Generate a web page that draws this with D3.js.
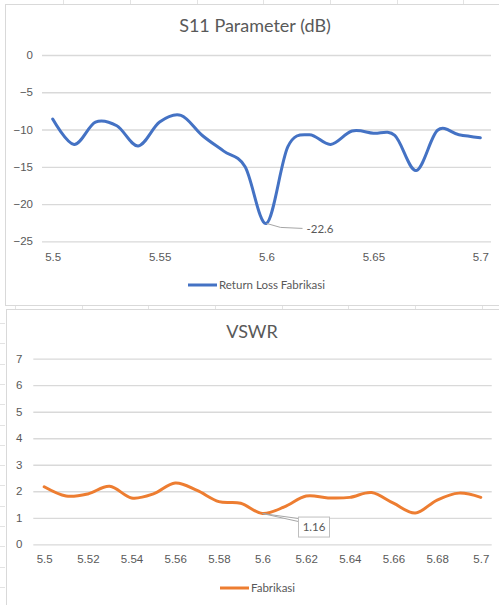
<!DOCTYPE html>
<html>
<head>
<meta charset="utf-8">
<script src="https://cdn.jsdelivr.net/npm/d3@7"></script>
<style>
  html, body { margin: 0; padding: 0; background: #fff; }
  svg { display: block; font-family: Lato, "Open Sans", sans-serif; }
</style>
</head>
<body>
<svg id="sheet" width="499" height="605"></svg>
<script>
// Frequency sweep (GHz), one category per measurement
const frequencies = [5.50, 5.51, 5.52, 5.53, 5.54, 5.55, 5.56, 5.57, 5.58, 5.59, 5.60,
                     5.61, 5.62, 5.63, 5.64, 5.65, 5.66, 5.67, 5.68, 5.69, 5.70];

// Measured return loss of the fabricated antenna (dB)
const returnLoss = [-8.6, -12.0, -9.0, -9.5, -12.2, -9.0, -8.1, -10.8, -12.9, -15.0, -22.6,
                    -12.3, -10.7, -12.0, -10.2, -10.5, -10.8, -15.5, -10.1, -10.7, -11.1];

// Measured VSWR of the fabricated antenna
const vswr = [2.17, 1.82, 1.90, 2.19, 1.75, 1.90, 2.31, 2.03, 1.61, 1.55, 1.16,
              1.41, 1.82, 1.75, 1.77, 1.95, 1.55, 1.18, 1.67, 1.93, 1.77];

// Frequency whose value carries a data label (resonance)
const labelledFrequency = 5.60;

// Axis tick values
const s11Ticks = [0, -5, -10, -15, -20, -25];
const s11FreqLabels = ["5.5", "5.55", "5.6", "5.65", "5.7"];
const vswrTicks = [0, 1, 2, 3, 4, 5, 6, 7];
const vswrFreqLabels = ["5.5", "5.52", "5.54", "5.56", "5.58", "5.6", "5.62", "5.64", "5.66", "5.68", "5.7"];

const fmt = d => String(+d.toFixed(2));
const categories = frequencies.map(fmt);
const labelIndex = frequencies.findIndex(f => Math.abs(f - labelledFrequency) < 1e-9);

const svg = d3.select("#sheet");
const GRID = "#d9d9d9";
const TEXT = "#595959";

// Faint worksheet cell lines peeking around the chart objects
const sheet = svg.append("g").attr("stroke", "#e3e3e3").attr("stroke-width", 1);
[63, 130, 197, 263, 330, 397, 463].forEach(x =>
  sheet.append("line").attr("x1", x + 0.5).attr("x2", x + 0.5).attr("y1", 0).attr("y2", 4));
[15, 82, 148, 215, 282, 348, 415, 482].forEach(x =>
  sheet.append("line").attr("x1", x + 0.5).attr("x2", x + 0.5).attr("y1", 305).attr("y2", 309));
d3.range(323, 605, 20.3).forEach(y =>
  sheet.append("line").attr("x1", 0).attr("x2", 5).attr("y1", Math.round(y) + 0.5).attr("y2", Math.round(y) + 0.5));

function drawChart(cfg) {
  const g = svg.append("g");

  // chart frame
  g.append("rect")
    .attr("x", cfg.frame[0] + 0.5).attr("y", cfg.frame[1] + 0.5)
    .attr("width", cfg.frame[2]).attr("height", cfg.frame[3])
    .attr("fill", "#fff").attr("stroke", GRID);

  const x = d3.scalePoint().domain(categories).range([cfg.plot.left, cfg.plot.right]).padding(0.5);
  const y = d3.scaleLinear().domain(cfg.yDomain).range([cfg.plot.bottom, cfg.plot.top]);

  // title
  g.append("text")
    .attr("x", cfg.titlePos[0]).attr("y", cfg.titlePos[1])
    .attr("text-anchor", "middle").attr("fill", TEXT)
    .attr("font-size", 18).text(cfg.title);

  // horizontal gridlines + value labels
  const yAxis = g.append("g")
    .attr("transform", `translate(${cfg.plot.left},0)`)
    .call(d3.axisLeft(y).tickValues(cfg.yTicks).tickFormat(d3.format("d"))
      .tickSizeInner(-(cfg.plot.right - cfg.plot.left)).tickSizeOuter(0).tickPadding(cfg.yPad));
  yAxis.select(".domain").remove();
  yAxis.selectAll(".tick line").attr("stroke", GRID).attr("stroke-width", 1.3);
  yAxis.selectAll(".tick text").attr("fill", TEXT).attr("font-size", 11.5).attr("font-family", null);

  // category labels
  const xAxis = g.append("g")
    .attr("transform", `translate(0,${cfg.plot.bottom})`)
    .call(d3.axisBottom(x).tickValues(cfg.xLabels).tickSize(0).tickPadding(cfg.xPad));
  xAxis.select(".domain").remove();
  xAxis.selectAll(".tick text").attr("fill", TEXT).attr("font-size", 11.5).attr("font-family", null);

  // smoothed series line
  const line = d3.line()
    .x((d, i) => x(categories[i]))
    .y(d => y(d))
    .curve(d3.curveCardinal.tension(0));
  g.append("path")
    .datum(cfg.values)
    .attr("fill", "none").attr("stroke", cfg.color)
    .attr("stroke-width", 3).attr("stroke-linejoin", "round").attr("stroke-linecap", "round")
    .attr("d", line);

  // data label on the resonance point
  const px = x(categories[labelIndex]), py = y(cfg.values[labelIndex]);
  cfg.label(g, px, py, cfg.values[labelIndex]);

  // legend
  g.append("line")
    .attr("x1", cfg.legend[0]).attr("x2", cfg.legend[0] + 29)
    .attr("y1", cfg.legend[1]).attr("y2", cfg.legend[1])
    .attr("stroke", cfg.color).attr("stroke-width", 3);
  g.append("text")
    .attr("x", cfg.legend[0] + 31).attr("y", cfg.legend[1] + 4)
    .attr("fill", TEXT).attr("font-size", 11.5).text(cfg.series);
}

drawChart({
  frame: [5, 4, 500, 301],
  plot: { left: 42, right: 491, top: 55, bottom: 241.3 },
  yDomain: [-25, 0],
  yTicks: s11Ticks,
  xLabels: s11FreqLabels,
  yPad: 9, xPad: 12,
  title: "S11 Parameter (dB)",
  titlePos: [255, 32],
  values: returnLoss,
  color: "#4472c4",
  series: "Return Loss Fabrikasi",
  legend: [188, 285],
  label: (g, px, py, v) => {
    g.append("polyline")
      .attr("points", `${px},${py} ${px + 14},${py + 4} ${px + 36},${py + 5}`)
      .attr("fill", "none").attr("stroke", "#a6a6a6").attr("stroke-width", 1);
    g.append("text")
      .attr("x", px + 40).attr("y", py + 9.5)
      .attr("fill", TEXT).attr("font-size", 11.5).text(fmt(v));
  }
});

drawChart({
  frame: [6, 309, 500, 300],
  plot: { left: 33.3, right: 491.7, top: 358.7, bottom: 544.3 },
  yDomain: [0, 7],
  yTicks: vswrTicks,
  xLabels: vswrFreqLabels,
  yPad: 11, xPad: 11,
  title: "VSWR",
  titlePos: [252, 338],
  values: vswr,
  color: "#ed7d31",
  series: "Fabrikasi",
  legend: [220, 588],
  label: (g, px, py, v) => {
    g.append("polygon")
      .attr("points", `${px},${py} ${px + 36},${py + 5} ${px + 36},${py + 8}`)
      .attr("fill", "#fff").attr("stroke", "#a6a6a6").attr("stroke-width", 1);
    g.append("rect")
      .attr("x", px + 36).attr("y", py + 3.5).attr("width", 31).attr("height", 20)
      .attr("fill", "#fff").attr("stroke", "#bfbfbf").attr("stroke-width", 1);
    g.append("text")
      .attr("x", px + 51.5).attr("y", py + 17.5).attr("text-anchor", "middle")
      .attr("fill", TEXT).attr("font-size", 11.5).text(fmt(v));
  }
});
</script>
</body>
</html>
